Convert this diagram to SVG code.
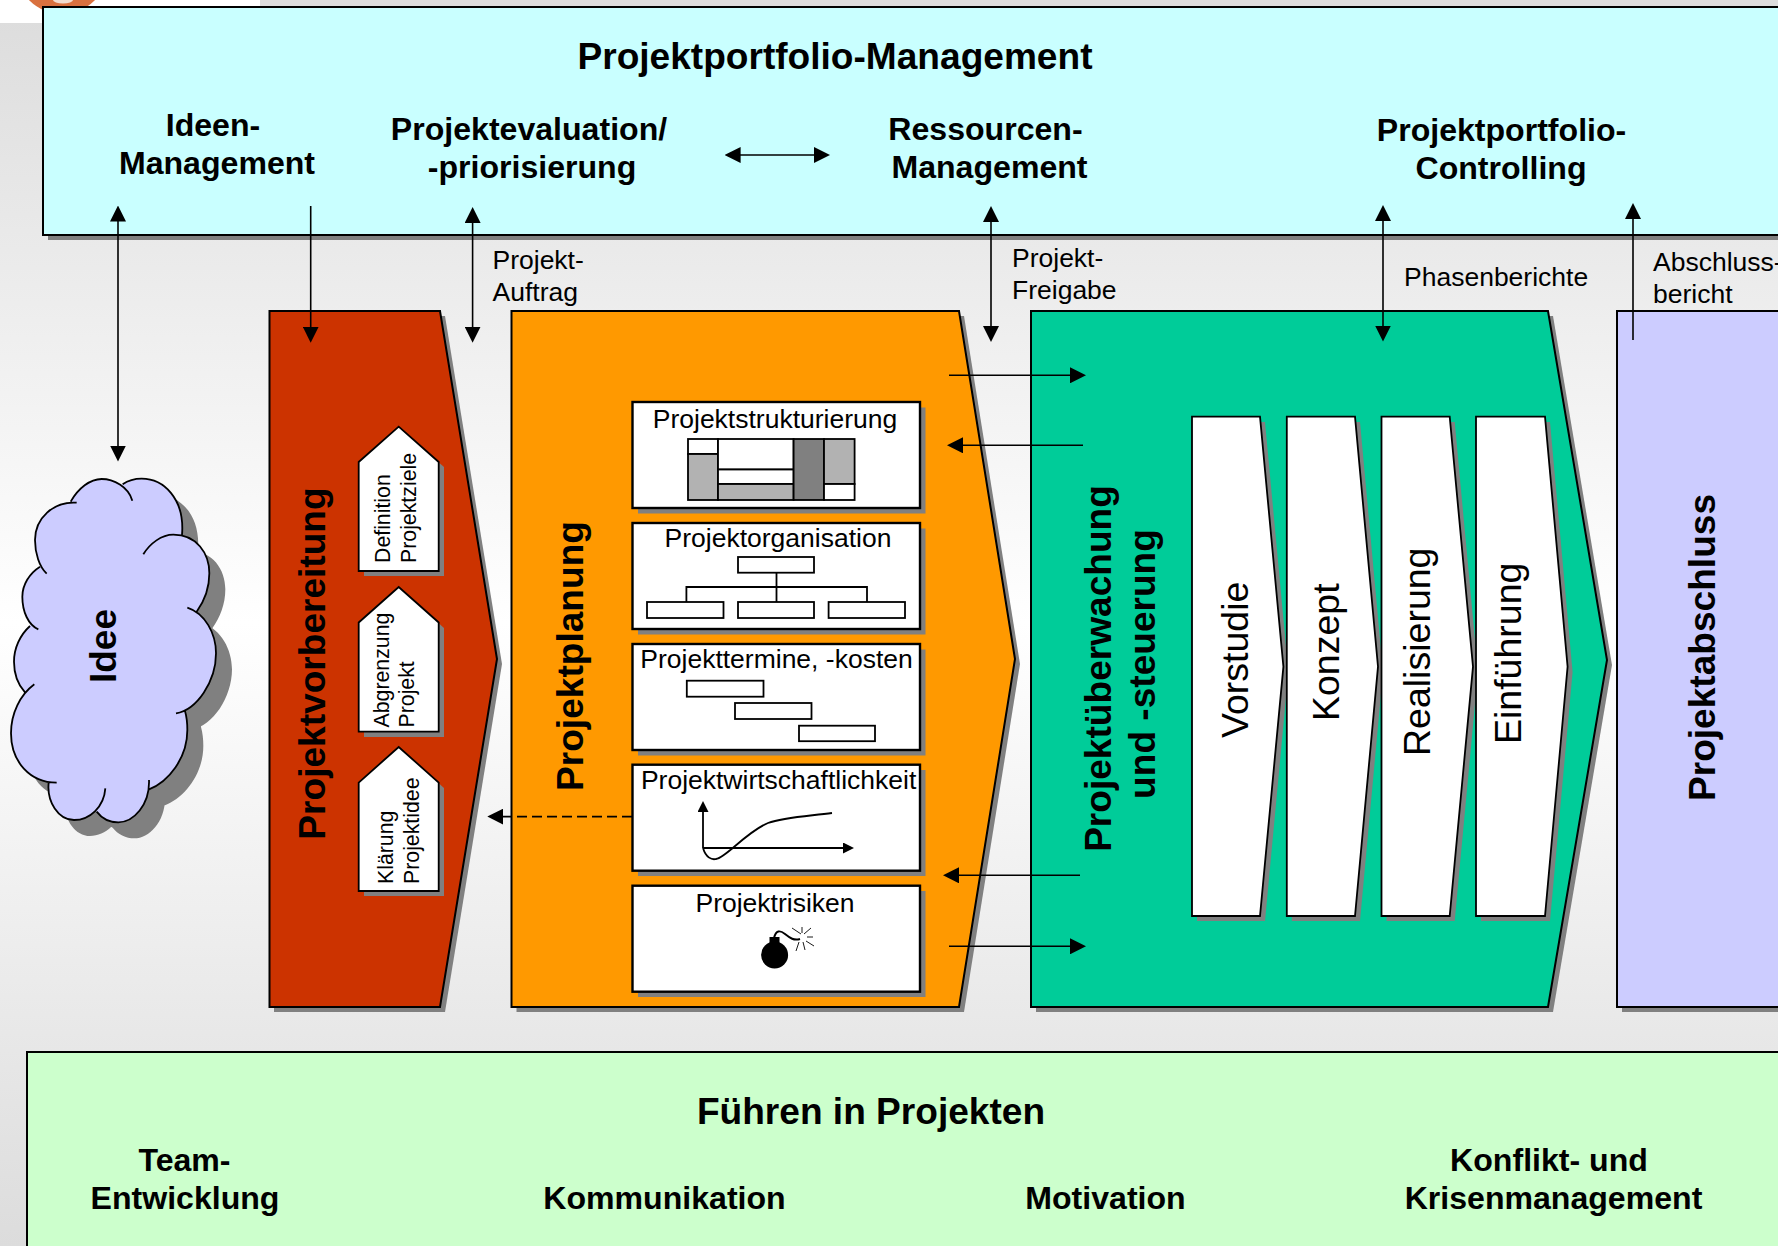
<svg xmlns="http://www.w3.org/2000/svg" width="1778" height="1246" viewBox="0 0 1778 1246">
<style>
text{font-family:"Liberation Sans",Arial,sans-serif;fill:#000}
.b32{font-size:32.1px;font-weight:700;text-anchor:middle}
.b37{font-size:37.1px;font-weight:700}
.mid{text-anchor:middle}
.r26{font-size:26.5px}
.r21{font-size:21.3px}
.r37{font-size:37.5px}
.sh{fill:#808080;stroke:none}
.o{stroke:#000;stroke-width:2}
.w{fill:#fff;stroke:#000;stroke-width:2.4}
.ic{fill:#fff;stroke:#000;stroke-width:1.8}
.g{fill:#b2b2b2;stroke:#000;stroke-width:1.8}
.d{fill:#808080;stroke:#000;stroke-width:1.8}
.c{stroke:#000;stroke-width:1.8;fill:none}
.ln{stroke:#000;stroke-width:1.6;fill:none}
</style>
<defs>
<linearGradient id="bg" x1="0" y1="0" x2="0" y2="1">
<stop offset="0" stop-color="#dcdcdc"/><stop offset="0.5" stop-color="#ffffff"/><stop offset="1" stop-color="#dcdcdc"/>
</linearGradient>
<marker id="ah" markerUnits="userSpaceOnUse" markerWidth="16" markerHeight="16" viewBox="0 0 16 16" refX="12" refY="8" orient="auto-start-reverse">
<path d="M0,0L16,8L0,16z" fill="#000"/>
</marker>
<marker id="ahs" markerUnits="userSpaceOnUse" markerWidth="11" markerHeight="11" viewBox="0 0 11 11" refX="8" refY="5.5" orient="auto">
<path d="M0,0L11,5.5L0,11z" fill="#000"/>
</marker>
<path id="cloudfill" d="M212,110C235,70 270,42 305,42C340,42 385,65 397,107Z
M368,58C385,46 405,41 425,41C490,41 555,100 546,210Z
M430,268C450,235 485,209 520,209C590,209 628,265 628,325C628,370 612,410 590,440Z
M562,428C615,445 648,505 648,565C648,650 590,735 528,745Z
M555,738C560,755 562,775 562,795C562,880 505,950 447,973Z
M447,945C450,1020 400,1072 355,1072C330,1072 305,1060 290,1040Z
M316,970C312,1025 270,1065 222,1065C175,1065 140,1010 146,953Z
M170,953C90,953 33,890 33,805C33,745 60,690 103,658Z
M75,682C55,660 42,625 42,590C42,550 60,510 90,483Z
M115,493C85,480 67,440 67,395C67,360 88,325 120,305Z
M140,326C118,305 105,265 105,225C105,160 160,108 230,113Z
M212,110L368,58L546,210L590,440L555,738L447,973L290,1040L146,953L75,682L90,483L120,305Z"/>
</defs>

<g id="background">
<rect width="1778" height="1246" fill="url(#bg)"/>
<rect width="260" height="23" fill="#fff"/>
<rect x="260" width="1518" height="7" fill="#dddddd"/>
<circle cx="62" cy="-32" r="46" fill="#d9713f"/>
<ellipse cx="63" cy="0" rx="10" ry="3.500" fill="#f3ddd0"/>
</g>

<g id="projektportfolio-management">
<rect class="sh" x="48" y="12" width="1735" height="228"/>
<rect class="o" x="43" y="7" width="1740" height="228" fill="#c9ffff"/>
<text class="b37 mid" x="835" y="69">Projektportfolio-Management</text>
<text class="b32" x="213" y="136">Ideen-</text>
<text class="b32" x="217" y="174">Management</text>
<text class="b32" x="529" y="140">Projektevaluation/</text>
<text class="b32" x="532" y="178">-priorisierung</text>
<text class="b32" x="985.500" y="140">Ressourcen-</text>
<text class="b32" x="989.500" y="178">Management</text>
<text class="b32" x="1501.500" y="141">Projektportfolio-</text>
<text class="b32" x="1501" y="179">Controlling</text>
</g>

<g id="fuehren-in-projekten">
<rect class="o" x="27" y="1052" width="1760" height="200" fill="#ccffcc"/>
<text class="b37 mid" x="871" y="1124">Führen in Projekten</text>
<text class="b32" x="184.500" y="1171">Team-</text>
<text class="b32" x="185" y="1209">Entwicklung</text>
<text class="b32" x="664.500" y="1209">Kommunikation</text>
<text class="b32" x="1105.500" y="1209">Motivation</text>
<text class="b32" x="1549" y="1171">Konflikt- und</text>
<text class="b32" x="1553.500" y="1209">Krisenmanagement</text>
</g>

<g id="idee">
<use href="#cloudfill" class="sh" transform="translate(16,481) scale(.33333)"/>
<g transform="translate(0,465) scale(.33333)">
<use href="#cloudfill" fill="#ccccff"/>
<path fill="none" stroke="#000" stroke-width="5.400" d="M212,110C235,70 270,42 305,42C340,42 385,65 397,107
M368,58C385,46 405,41 425,41C490,41 555,100 546,210
M430,268C450,235 485,209 520,209C590,209 628,265 628,325C628,370 612,410 590,440
M562,428C615,445 648,505 648,565C648,650 590,735 528,745
M555,738C560,755 562,775 562,795C562,880 505,950 447,973
M447,945C450,1020 400,1072 355,1072C330,1072 305,1060 290,1040
M316,970C312,1025 270,1065 222,1065C175,1065 140,1010 146,953
M170,953C90,953 33,890 33,805C33,745 60,690 103,658
M75,682C55,660 42,625 42,590C42,550 60,510 90,483
M115,493C85,480 67,440 67,395C67,360 88,325 120,305
M140,326C118,305 105,265 105,225C105,160 160,108 230,113"/>
</g>
<text class="b37 mid" transform="translate(115.500,646) rotate(-90)">Idee</text>
</g>

<g id="projektvorbereitung">
<polygon class="sh" points="274,316 445,316 502,664 445,1012 274,1012"/>
<polygon class="o" points="269.500,311 440,311 497,659 440,1007 269.500,1007" fill="#cc3300"/>
<text class="b37 mid" transform="translate(325,663.500) rotate(-90)">Projektvorbereitung</text>
</g>
<g id="definition-projektziele">
<polygon class="sh" points="364,467 404,432 444,467 444,576 364,576"/>
<polygon class="ic" points="358.700,462 398.700,426.700 438.700,462 438.700,571 358.700,571"/>
<text class="r21" transform="translate(390,563) rotate(-90)">Definition</text>
<text class="r21" transform="translate(416,563) rotate(-90)">Projektziele</text>
</g>
<g id="abgrenzung-projekt">
<polygon class="sh" points="364,628 404,592 444,628 444,737 364,737"/>
<polygon class="ic" points="358.700,622.500 398.700,587 438.700,622.500 438.700,731.600 358.700,731.600"/>
<text class="r21" transform="translate(388.500,727.500) rotate(-90)">Abgrenzung</text>
<text class="r21" transform="translate(413.500,727.500) rotate(-90)">Projekt</text>
</g>
<g id="klaerung-projektidee">
<polygon class="sh" points="364,788 404,752 444,788 444,896 364,896"/>
<polygon class="ic" points="358.700,782.600 398.700,747 438.700,782.600 438.700,891 358.700,891"/>
<text class="r21" transform="translate(393,884) rotate(-90)">Klärung</text>
<text class="r21" transform="translate(418.500,884) rotate(-90)">Projektidee</text>
</g>

<g id="projektplanung">
<polygon class="sh" points="516.500,316 964,316 1020,664 964,1012 516.500,1012"/>
<polygon class="o" points="511.500,311 959,311 1015,659 959,1007 511.500,1007" fill="#ff9900"/>
<text class="b37 mid" transform="translate(583,656) rotate(-90)">Projektplanung</text>
</g>
<g id="projektstrukturierung">
<rect class="sh" x="638" y="407.500" width="287.500" height="106"/>
<rect class="w" x="632.500" y="402" width="287.500" height="106"/>
<text class="r26 mid" x="775" y="428">Projektstrukturierung</text>
<rect class="ic" x="688" y="439" width="30" height="15"/>
<rect class="g" x="688" y="454" width="30" height="46"/>
<rect class="ic" x="718" y="439" width="75.600" height="30.500"/>
<rect class="ic" x="718" y="469.500" width="75.600" height="14.500"/>
<rect class="g" x="718" y="484" width="75.600" height="16"/>
<rect class="d" x="793.600" y="439" width="30.400" height="61"/>
<rect class="g" x="824" y="439" width="30.600" height="45"/>
<rect class="ic" x="824" y="484" width="30.600" height="16"/>
</g>
<g id="projektorganisation">
<rect class="sh" x="638" y="528.500" width="287.500" height="106"/>
<rect class="w" x="632.500" y="523" width="287.500" height="106"/>
<text class="r26 mid" x="778" y="547">Projektorganisation</text>
<path class="c" d="M776.500,572.700V602M686.400,602V587H867V602"/>
<rect class="ic" x="738" y="557" width="76" height="15.700"/>
<rect class="ic" x="647" y="602" width="76.500" height="16"/>
<rect class="ic" x="738" y="602" width="76" height="16"/>
<rect class="ic" x="828.600" y="602" width="76.400" height="16"/>
</g>
<g id="projekttermine-kosten">
<rect class="sh" x="638" y="649.500" width="287.500" height="106"/>
<rect class="w" x="632.500" y="644" width="287.500" height="106"/>
<text class="r26 mid" x="776.500" y="668">Projekttermine, -kosten</text>
<rect class="ic" x="686.800" y="680.700" width="76.700" height="16"/>
<rect class="ic" x="735" y="703" width="76.500" height="16"/>
<rect class="ic" x="799" y="725.700" width="76" height="15.500"/>
</g>
<g id="projektwirtschaftlichkeit">
<rect class="sh" x="638" y="770" width="287.500" height="106"/>
<rect class="w" x="632.500" y="764.700" width="287.500" height="106"/>
<text class="r26 mid" x="778.600" y="789">Projektwirtschaftlichkeit</text>
<path class="c" marker-end="url(#ahs)" d="M703,848V804"/>
<path class="c" marker-end="url(#ahs)" d="M703,848H851"/>
<path class="c" d="M703,848C706,858 712,860 716,859C726,858 746,832 768,823C784,817 810,816 832,813"/>
</g>
<g id="projektrisiken">
<rect class="sh" x="638" y="891" width="287.500" height="106"/>
<rect class="w" x="632.500" y="885.700" width="287.500" height="106"/>
<text class="r26 mid" x="775" y="911.700">Projektrisiken</text>
<circle cx="774.600" cy="955" r="13.500" fill="#000"/>
<rect x="769.500" y="937" width="10" height="8" fill="#000"/>
<path d="M774,938C776,930 780,930 785,934C790,938 794,941 800,939" fill="none" stroke="#000" stroke-width="2"/>
<path fill="none" stroke="#000" stroke-width="0.900" d="M801,934L792,928M802,933V927M804,934L811,928M807,937H813M806,941L814,946M803,942L805,950M799,942L796,951"/>
</g>

<g id="projektueberwachung">
<polygon class="sh" points="1036,316 1553,316 1612,665 1553,1012 1036,1012"/>
<polygon class="o" points="1031,311 1548,311 1607,660 1548,1007 1031,1007" fill="#00cc99"/>
<text class="b37 mid" transform="translate(1111,668.500) rotate(-90)">Projektüberwachung</text>
<text class="b37 mid" transform="translate(1155,664) rotate(-90)">und -steuerung</text>
</g>
<g id="vorstudie">
<polygon class="sh" points="1197,422 1265,422 1288.400,672 1265,921 1197,921"/>
<polygon class="ic" points="1192,416.700 1260,416.700 1283.400,666.700 1260,916 1192,916"/>
<text class="r37" transform="translate(1247.500,738) rotate(-90)">Vorstudie</text>
</g>
<g id="konzept">
<polygon class="sh" points="1291.800,422 1360,422 1383,672 1360,921 1291.800,921"/>
<polygon class="ic" points="1286.800,416.700 1355,416.700 1378,666.700 1355,916 1286.800,916"/>
<text class="r37" transform="translate(1339,721) rotate(-90)">Konzept</text>
</g>
<g id="realisierung">
<polygon class="sh" points="1386.500,422 1454.700,422 1478,672 1454.700,921 1386.500,921"/>
<polygon class="ic" points="1381.500,416.700 1449.700,416.700 1473,666.700 1449.700,916 1381.500,916"/>
<text class="r37" transform="translate(1430,756) rotate(-90)">Realisierung</text>
</g>
<g id="einfuehrung">
<polygon class="sh" points="1481,422 1550,422 1572.600,672 1550,921 1481,921"/>
<polygon class="ic" points="1476,416.700 1545,416.700 1567.600,666.700 1545,916 1476,916"/>
<text class="r37" transform="translate(1521,744) rotate(-90)">Einführung</text>
</g>

<g id="projektabschluss">
<rect class="sh" x="1622" y="316" width="170" height="696"/>
<rect class="o" x="1617" y="311" width="170" height="696" fill="#ccccff"/>
<text class="b37" transform="translate(1715,801) rotate(-90)">Projektabschluss</text>
</g>

<g id="connectors">
<path class="ln" marker-start="url(#ah)" marker-end="url(#ah)" d="M118,209.500V457.500"/>
<path class="ln" marker-end="url(#ah)" d="M310.700,206V338.700"/>
<path class="ln" marker-start="url(#ah)" marker-end="url(#ah)" d="M472.600,211V338.700"/>
<path class="ln" marker-start="url(#ah)" marker-end="url(#ah)" d="M991,210V338"/>
<path class="ln" marker-start="url(#ah)" marker-end="url(#ah)" d="M1383,209V337.500"/>
<path class="ln" marker-end="url(#ah)" d="M1633,340V207"/>
<path class="ln" marker-start="url(#ah)" marker-end="url(#ah)" d="M728.600,155H826"/>
<path class="ln" marker-end="url(#ah)" d="M949,375.300H1082"/>
<path class="ln" marker-end="url(#ah)" d="M1083,445.300H951"/>
<path class="ln" marker-end="url(#ah)" d="M1080,875.300H947"/>
<path class="ln" marker-end="url(#ah)" d="M949,946.300H1082"/>
<path class="ln" marker-end="url(#ah)" stroke-dasharray="10 5" d="M632,816.600H491.300"/>
</g>

<g id="edge-labels">
<text class="r26" x="492.500" y="269">Projekt-</text>
<text class="r26" x="492.500" y="301">Auftrag</text>
<text class="r26" x="1012" y="267">Projekt-</text>
<text class="r26" x="1012" y="299">Freigabe</text>
<text class="r26" x="1404" y="286">Phasenberichte</text>
<text class="r26" x="1653" y="271">Abschluss-</text>
<text class="r26" x="1653" y="302.500">bericht</text>
</g>
</svg>
